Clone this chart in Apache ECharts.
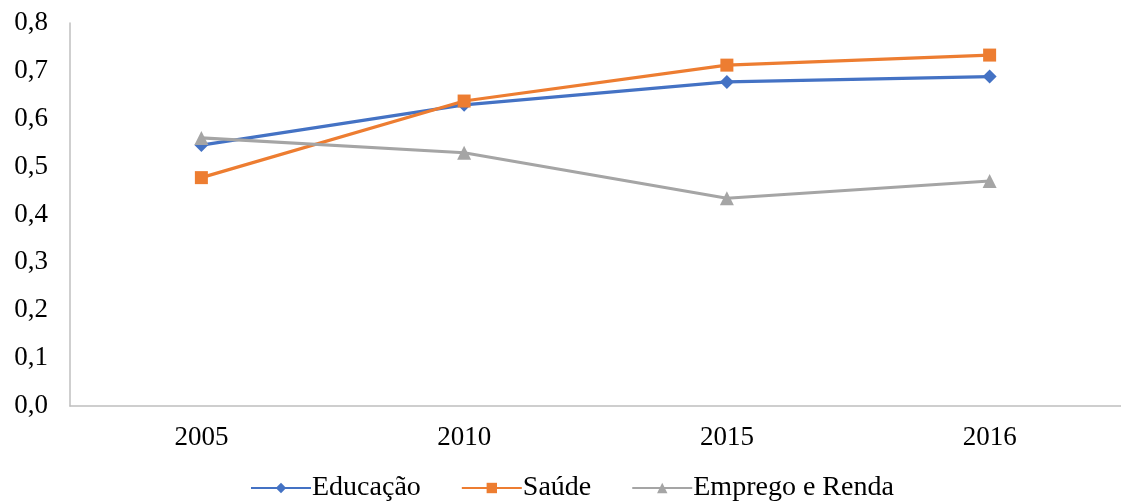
<!DOCTYPE html>
<html><head><meta charset="utf-8">
<script src="https://cdn.jsdelivr.net/npm/echarts@6/dist/echarts.min.js"></script>
<style>html,body{margin:0;padding:0;background:#fff}#c{width:1121px;height:503px}</style>
</head><body><div id="c"></div>
<script>
const categories = ['2005', '2010', '2015', '2016'];
const educacao = [0.545, 0.629, 0.677, 0.688];
const saude = [0.477, 0.637, 0.712, 0.733];
const emprego = [0.560, 0.529, 0.434, 0.470];
const yTicks = { min: 0, max: 0.8, interval: 0.1 };

const font = '"Liberation Serif", "Times New Roman", serif';
const chart = echarts.init(document.getElementById('c'));
function s(name, data, color, symbol, size) {
  return { name, type: 'line', data, symbol, symbolSize: size, color,
    lineStyle: { width: 3.2, color }, itemStyle: { color }, animation: false };
}
chart.setOption({
  animation: false,
  grid: { left: 70, right: 0, top: 23, bottom: 97 },
  xAxis: { type: 'category', data: categories, boundaryGap: true,
    axisLine: { lineStyle: { color: '#bfbfbf', width: 1.5 } }, axisTick: { show: false },
    axisLabel: { fontFamily: font, fontSize: 27, color: '#000', margin: 18 } },
  yAxis: { type: 'value', min: yTicks.min, max: yTicks.max, interval: yTicks.interval,
    axisLine: { show: true, lineStyle: { color: '#bfbfbf', width: 1.5 } }, axisTick: { show: false },
    splitLine: { show: false },
    axisLabel: { fontFamily: font, fontSize: 27, color: '#000', margin: 22,
      formatter: v => v.toFixed(1).replace('.', ',') } },
  legend: { top: 474, left: 250, padding: 0, itemWidth: 60, itemHeight: 13, itemGap: 40,
    textStyle: { fontFamily: font, fontSize: 28, color: '#000', padding: [0, 0, 0, -4] } },
  series: [
    s('Educação', educacao, '#4472C4', 'diamond', 14),
    s('Saúde', saude, '#ED7D31', 'rect', 13),
    s('Emprego e Renda', emprego, '#A5A5A5', 'triangle', 14)
  ]
});
</script></body></html>
